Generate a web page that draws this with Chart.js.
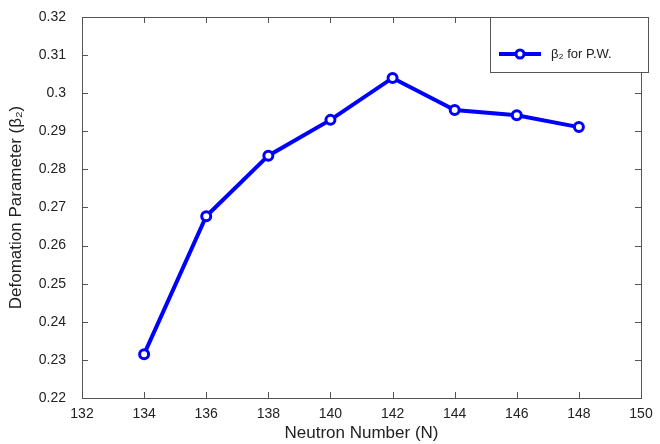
<!DOCTYPE html>
<html>
<head>
<meta charset="utf-8">
<script src="https://cdn.jsdelivr.net/npm/chart.js@4"></script>
<style>
  body { margin: 0; background: #fff; }
  #wrap { width: 660px; height: 444px; }
</style>
</head>
<body>
<div id="wrap"><canvas id="myChart" width="660" height="444"></canvas></div>
<script>
// data
var neutronN = [134, 136, 138, 140, 142, 144, 146, 148];
var beta2 = [0.2315, 0.2677, 0.2836, 0.2930, 0.3040, 0.2956, 0.2942, 0.2911];
var seriesLabel = 'β₂ for P.W.';

var FONT = 'Liberation Sans, Arial, sans-serif';

// box round the plot with inward ticks, like the original
var boxPlugin = {
    id: 'box',
    afterDraw: function (chart) {
        var c = chart.ctx, a = chart.chartArea;
        var xs = chart.scales.x, ys = chart.scales.y;
        c.save();
        c.strokeStyle = '#555';
        c.lineWidth = 1;
        c.strokeRect(a.left + 0.5, a.top + 0.5, a.right - a.left, a.bottom - a.top);
        c.beginPath();
        xs.ticks.forEach(function (t) {
            var px = Math.round(xs.getPixelForValue(t.value)) + 0.5;
            c.moveTo(px, a.bottom); c.lineTo(px, a.bottom - 6);
            c.moveTo(px, a.top); c.lineTo(px, a.top + 6);
        });
        ys.ticks.forEach(function (t) {
            var py = Math.round(ys.getPixelForValue(t.value)) + 0.5;
            c.moveTo(a.left, py); c.lineTo(a.left + 6, py);
            c.moveTo(a.right, py); c.lineTo(a.right - 6, py);
        });
        c.stroke();

        // legend box in the top right corner
        var lx = 490, ly = a.top, lw = a.right + 7 - lx, lh = 55;
        c.fillStyle = '#fff';
        c.fillRect(lx, ly, lw, lh);
        c.strokeStyle = '#555';
        c.strokeRect(lx + 0.5, ly + 0.5, lw, lh);
        var my = ly + 37;
        c.strokeStyle = '#0000ff';
        c.lineWidth = 4;
        c.beginPath(); c.moveTo(499, my); c.lineTo(541, my); c.stroke();
        c.lineWidth = 3;
        c.beginPath(); c.arc(520, my, 4, 0, Math.PI * 2);
        c.fillStyle = '#fff'; c.fill(); c.stroke();
        c.fillStyle = '#222';
        c.font = '13px ' + FONT;
        c.textBaseline = 'middle';
        c.fillText(chart.data.datasets[0].label, 551, my);
        c.restore();
    }
};

var ctx = document.getElementById('myChart').getContext('2d');
var chart = new Chart(ctx, {
    type: 'line',
    data: {
        datasets: [{
            label: seriesLabel,
            data: neutronN.map(function (n, i) { return { x: n, y: beta2[i] }; }),
            borderColor: '#0000ff',
            backgroundColor: '#ffffff',
            borderWidth: 4,
            pointRadius: 4.5,
            pointBorderWidth: 3,
            pointBackgroundColor: '#ffffff',
            pointBorderColor: '#0000ff',
            tension: 0
        }]
    },
    options: {
        responsive: false,
        animation: false,
        layout: { padding: { top: 17, right: 19, left: 6, bottom: 0 } },
        plugins: {
            legend: { display: false },
            tooltip: { enabled: false }
        },
        scales: {
            x: {
                type: 'linear',
                min: 132, max: 150,
                grid: { display: false },
                border: { display: false },
                ticks: { stepSize: 2, color: '#222', font: { family: FONT, size: 14 }, padding: 0, maxRotation: 0 },
                title: { display: true, text: 'Neutron Number (N)', color: '#222', font: { family: FONT, size: 17 }, padding: { top: 1, bottom: 0 } },
                afterFit: function (s) { s.height = 46; }
            },
            y: {
                min: 0.22, max: 0.32,
                grid: { display: false },
                border: { display: false },
                ticks: {
                    stepSize: 0.01, color: '#222', font: { family: FONT, size: 14 }, padding: 8,
                    callback: function (v) { return String(+v.toFixed(2)); }
                },
                title: { display: true, text: 'Defomation Parameter (β₂)', color: '#222', font: { family: FONT, size: 17 }, padding: { top: 0, bottom: 4 } },
                afterFit: function (s) { s.width = 76; }
            }
        }
    },
    plugins: [boxPlugin]
});
</script>
</body>
</html>
